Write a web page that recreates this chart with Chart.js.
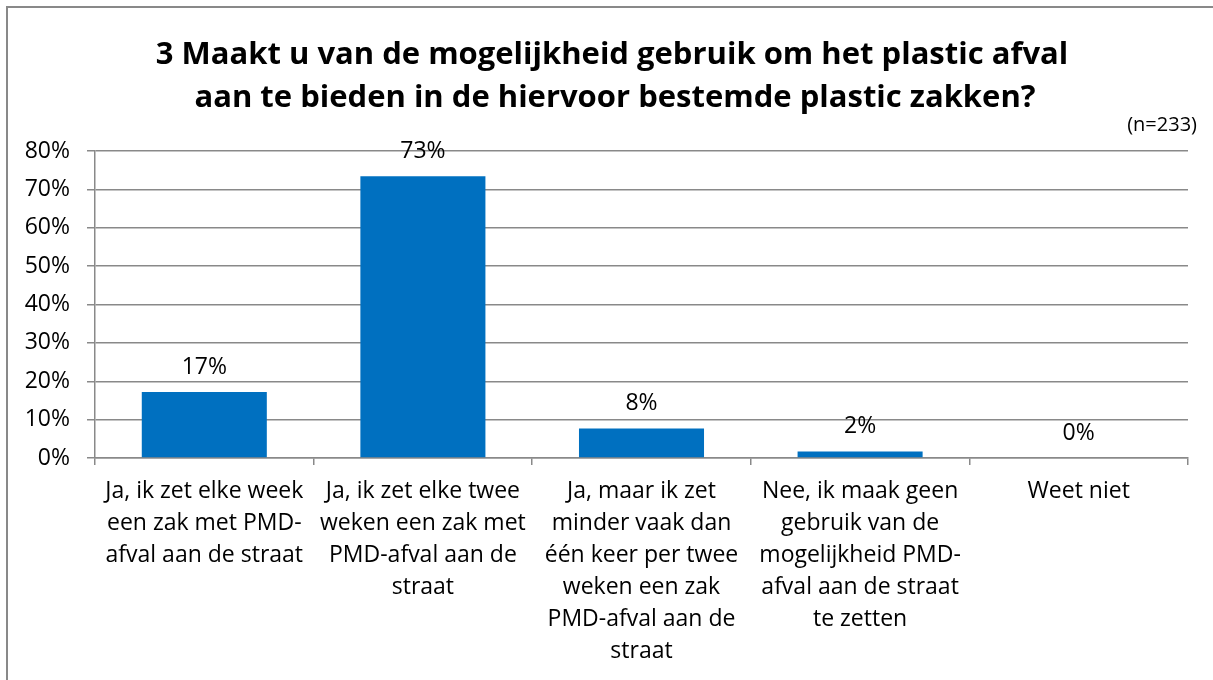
<!DOCTYPE html>
<html>
<head>
<meta charset="utf-8">
<script src="https://cdn.jsdelivr.net/npm/chart.js@4/dist/chart.umd.min.js"></script>
<style>
  html, body { margin: 0; padding: 0; background: #fff; }
  #wrap { position: relative; width: 1213px; height: 680px; }
</style>
</head>
<body>
<div id="wrap"><canvas id="c"></canvas></div>
<script>
const titleLines = [
  "3 Maakt u van de mogelijkheid gebruik om het plastic afval",
  "aan te bieden in de hiervoor bestemde plastic zakken?"
];
const sampleNote = "(n=233)";
const categories = [
  ["Ja, ik zet elke week", "een zak met PMD-", "afval aan de straat"],
  ["Ja, ik zet elke twee", "weken een zak met", "PMD-afval aan de", "straat"],
  ["Ja, maar ik zet", "minder vaak dan", "één keer per twee", "weken een zak", "PMD-afval aan de", "straat"],
  ["Nee, ik maak geen", "gebruik van de", "mogelijkheid PMD-", "afval aan de straat", "te zetten"],
  ["Weet niet"]
];
const percentages = [17.2, 73.4, 7.7, 1.7, 0];
const yTicks = [0, 10, 20, 30, 40, 50, 60, 70, 80];

const FONT = "'Open Sans', 'Liberation Sans', sans-serif";
const GRID = "#898989";

const framePlugin = {
  id: 'frame',
  beforeDraw(chart) {
    const ctx = chart.ctx;
    ctx.save();
    ctx.fillStyle = '#ffffff';
    ctx.fillRect(0, 0, chart.width, chart.height);
    ctx.strokeStyle = GRID;
    ctx.lineWidth = 2;
    ctx.beginPath();
    ctx.moveTo(7, chart.height);
    ctx.lineTo(7, 7);
    ctx.lineTo(chart.width, 7);
    ctx.stroke();
    ctx.restore();
  },
  afterDraw(chart) {
    const ctx = chart.ctx;
    ctx.save();
    ctx.fillStyle = '#000';
    ctx.textAlign = 'center';
    ctx.textBaseline = 'middle';
    ctx.font = "bold 31px " + FONT;
    ctx.fillText(titleLines[0], 612, 55);
    ctx.fillText(titleLines[1], 615, 98);
    ctx.font = "20px " + FONT;
    ctx.textAlign = 'right';
    ctx.fillText(sampleNote, 1197, 125);
    ctx.restore();
  }
};

const valueLabelPlugin = {
  id: 'valueLabels',
  afterDatasetsDraw(chart) {
    const ctx = chart.ctx;
    const meta = chart.getDatasetMeta(0);
    ctx.save();
    ctx.fillStyle = '#000';
    ctx.font = "23px " + FONT;
    ctx.textAlign = 'center';
    ctx.textBaseline = 'middle';
    meta.data.forEach((bar, i) => {
      ctx.fillText(Math.round(percentages[i]) + '%', bar.x, bar.y - 25);
    });
    ctx.restore();
  }
};

new Chart(document.getElementById('c'), {
  type: 'bar',
  data: {
    labels: categories,
    datasets: [{
      data: percentages,
      backgroundColor: '#0070C0',
      borderWidth: 0,
      barPercentage: 0.572,
      categoryPercentage: 1.0
    }]
  },
  options: {
    responsive: true,
    maintainAspectRatio: false,
    animation: false,
    events: [],
    layout: { padding: { top: 151, right: 25, left: 0, bottom: 0 } },
    plugins: {
      legend: { display: false },
      title: { display: false },
      tooltip: { enabled: false }
    },
    scales: {
      x: {
        offset: true,
        grid: {
          display: true,
          offset: true,
          drawOnChartArea: false,
          drawTicks: true,
          tickLength: 7,
          color: GRID,
          lineWidth: 1.5
        },
        border: { display: true, color: GRID, width: 1.5 },
        ticks: {
          color: '#000',
          font: { family: FONT, size: 23, lineHeight: 32 / 23 },
          padding: 10,
          maxRotation: 0,
          autoSkip: false
        },
        afterFit(scale) { scale.height = 222; }
      },
      y: {
        min: 0,
        max: 80,
        afterBuildTicks(scale) { scale.ticks = yTicks.map(v => ({ value: v })); },
        grid: {
          color: GRID,
          lineWidth: 1.5,
          tickLength: 8,
          drawTicks: true
        },
        border: { display: true, color: GRID, width: 1.5 },
        ticks: {
          color: '#000',
          font: { family: FONT, size: 23 },
          padding: 17,
          callback: v => v + '%'
        },
        afterFit(scale) { scale.width = 95; }
      }
    }
  },
  plugins: [framePlugin, valueLabelPlugin]
});
</script>
</body>
</html>
